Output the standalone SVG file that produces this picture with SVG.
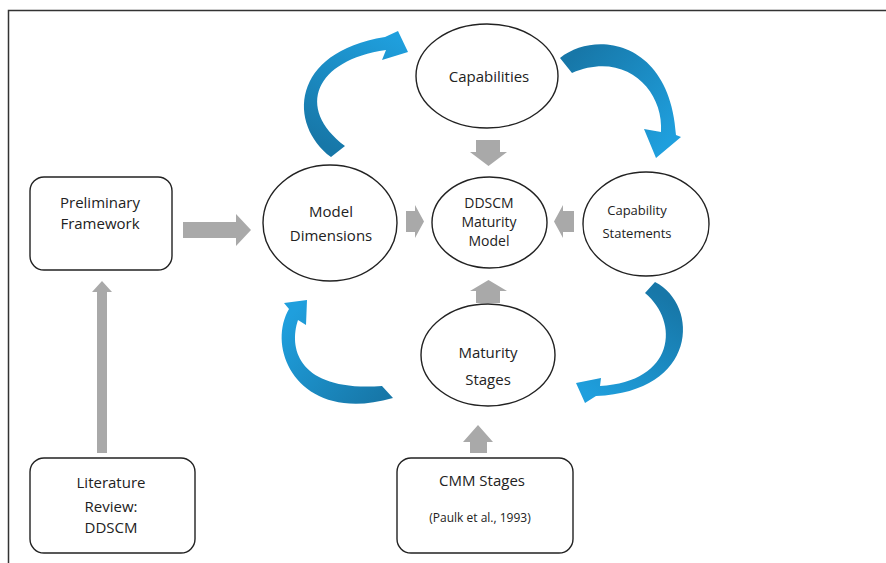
<svg xmlns="http://www.w3.org/2000/svg" width="886" height="563" viewBox="0 0 886 563">
<style>
.t{font-family:"Open Sans","Liberation Sans",sans-serif;font-size:15px;fill:#222;text-anchor:middle}
.s{font-size:13px}
.m{font-size:14px}
.e{fill:#fff;stroke:#222;stroke-width:1.4}
.b{fill:#fff;stroke:#222;stroke-width:1.4}
.g{fill:#a9a9a9}
</style>
<defs>
<linearGradient id="g1" gradientUnits="userSpaceOnUse" x1="338" y1="152" x2="400" y2="40"><stop offset="0" stop-color="#1777a8"/><stop offset="1" stop-color="#1f9fdd"/></linearGradient>
<linearGradient id="g2" gradientUnits="userSpaceOnUse" x1="565" y1="65" x2="660" y2="150"><stop offset="0" stop-color="#1777a8"/><stop offset="1" stop-color="#1f9fdd"/></linearGradient>
<linearGradient id="g3" gradientUnits="userSpaceOnUse" x1="388" y1="392" x2="295" y2="310"><stop offset="0" stop-color="#1777a8"/><stop offset="1" stop-color="#1f9fdd"/></linearGradient>
<linearGradient id="g4" gradientUnits="userSpaceOnUse" x1="650" y1="288" x2="585" y2="392"><stop offset="0" stop-color="#1777a8"/><stop offset="1" stop-color="#1f9fdd"/></linearGradient>
</defs>
<rect width="886" height="563" fill="#fff"/>
<path d="M8.5 563V10.5H886" fill="none" stroke="#333" stroke-width="1.5"/>

<g id="connectors">
<polygon class="g" points="183,222 236,222 236,214 251,230 236,246 236,238 183,238"/>
<polygon class="g" points="97,453 97,292 92,292 102,281 112,292 107,292 107,453"/>
<polygon class="g" points="476,140 500,140 500,152 507,152 488.5,166 470,152 476,152"/>
<polygon class="g" points="406,211 415,211 415,205 424,221.5 415,238 415,232 406,232"/>
<polygon class="g" points="574,211 563,211 563,205 554,221.5 563,238 563,232 574,232"/>
<polygon class="g" points="476,303 476,291 470,291 488.5,280 507,291 500,291 500,303"/>
<polygon class="g" points="470,453 470,442 463,442 478,425 493,442 487,442 487,453"/>
<path fill="url(#g1)" d="M331 157C288 125,290 52,385 37L398 31L408 52L382 60L386 50C315 60,295 108,345 146Z"/>
<path fill="url(#g2)" d="M560 58C595 30,670 40,676 135L681 137L656 158L644 129L661 132C664 90,625 50,572 73Z"/>
<path fill="url(#g3)" d="M307 300L306 325L298 320C288 350,300 392,382 386L393 398C300 425,265 350,289 309L284 303Z"/>
<path fill="url(#g4)" d="M655 282C700 305,698 392,596 396L585 403L576 383L601 378L600 386C675 382,680 322,645 293Z"/>
</g>

<g id="capabilities"><ellipse class="e" cx="487" cy="76" rx="71" ry="52"/><text class="t" x="489" y="82">Capabilities</text></g>
<g id="model-dimensions"><ellipse class="e" cx="330" cy="223" rx="67" ry="58"/><text class="t" x="331" y="217">Model</text><text class="t" x="331" y="241">Dimensions</text></g>
<g id="ddscm"><ellipse class="e" cx="489.5" cy="222.5" rx="57.5" ry="45.5"/><text class="t m" x="489" y="208">DDSCM</text><text class="t m" x="489" y="227">Maturity</text><text class="t m" x="489" y="246">Model</text></g>
<g id="capability-statements"><ellipse class="e" cx="646" cy="224" rx="63" ry="52"/><text class="t s" x="637" y="215">Capability</text><text class="t s" x="637" y="238">Statements</text></g>
<g id="maturity-stages"><ellipse class="e" cx="488" cy="355" rx="67" ry="51"/><text class="t" x="488" y="358">Maturity</text><text class="t" x="488" y="385">Stages</text></g>
<g id="preliminary-framework"><rect class="b" x="30" y="177" width="142" height="93" rx="14"/><text class="t" x="100" y="208">Preliminary</text><text class="t" x="100" y="229">Framework</text></g>
<g id="literature-review"><rect class="b" x="30" y="458" width="165" height="95" rx="14"/><text class="t" x="111" y="488">Literature</text><text class="t" x="111" y="512">Review:</text><text class="t" x="111" y="533">DDSCM</text></g>
<g id="cmm-stages"><rect class="b" x="397" y="458" width="176" height="95" rx="14"/><text class="t" x="482" y="486">CMM Stages</text><text class="t s" x="480" y="522" style="font-size:12px">(Paulk et al., 1993)</text></g>
</svg>
